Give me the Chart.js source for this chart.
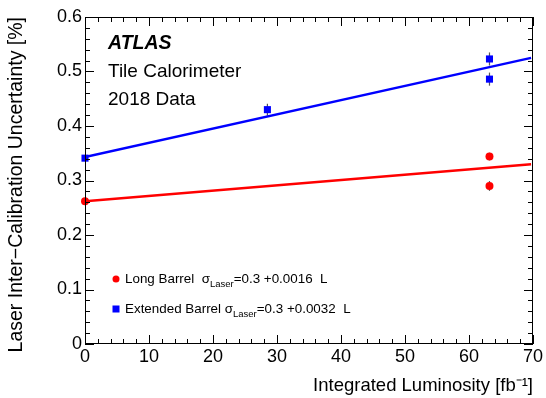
<!DOCTYPE html>
<html>
<head>
<meta charset="utf-8">
<script src="https://cdn.jsdelivr.net/npm/chart.js@4"></script>
<style>
  html, body { margin: 0; padding: 0; background: #fff; }
  #wrap { width: 546px; height: 398px; position: relative; }
</style>
</head>
<body>
<div id="wrap"><canvas id="c"></canvas></div>
<script>
// data
const lbLumi = [0, 63.2, 63.2];
const lbValues = [0.262, 0.344, 0.290];
const lbErrors = [0.004, 0.007, 0.009];

const ebLumi = [0, 28.5, 63.2, 63.2];
const ebValues = [0.341, 0.430, 0.523, 0.486];
const ebErrors = [0.004, 0.011, 0.012, 0.012];

// fitted lines (end points)
const fitLumi = [0, 69.7];
const lbFit = [0.262, 0.330];
const ebFit = [0.343, 0.525];

const xTicks = [0, 10, 20, 30, 40, 50, 60, 70];
const yTicks = [0, 0.1, 0.2, 0.3, 0.4, 0.5, 0.6];

const FONT = '"Liberation Sans", Arial, Helvetica, sans-serif';

function pts(xs, ys) {
    return xs.map((x, i) => ({ x: x, y: ys[i] }));
}

// ROOT style frame with ticks pointing inwards
const frameTicks = {
    id: 'frameTicks',
    afterDraw(chart) {
        const ctx = chart.ctx;
        const a = chart.chartArea;
        const xs = chart.scales.x, ys = chart.scales.y;
        ctx.save();
        ctx.strokeStyle = '#000';
        ctx.lineWidth = 1;
        ctx.strokeRect(a.left + 0.5, a.top + 0.5, a.right - a.left - 1, a.bottom - a.top - 1);
        ctx.beginPath();
        for (let v = 0; v <= 70.001; v += 2) {
            const px = Math.round(xs.getPixelForValue(v)) + 0.5;
            const len = (Math.round(v) % 10 === 0) ? 9 : 5;
            ctx.moveTo(px, a.bottom); ctx.lineTo(px, a.bottom - len);
            ctx.moveTo(px, a.top); ctx.lineTo(px, a.top + len);
        }
        for (let i = 0; i <= 30; i++) {
            const v = i * 0.02;
            const py = Math.round(ys.getPixelForValue(v)) + 0.5;
            const len = (i % 5 === 0) ? 9 : 5;
            ctx.moveTo(a.left, py); ctx.lineTo(a.left + len, py);
            ctx.moveTo(a.right, py); ctx.lineTo(a.right - len, py);
        }
        ctx.stroke();
        ctx.restore();
    }
};

// error bars drawn through the scales
const errorBars = {
    id: 'errorBars',
    beforeDatasetsDraw(chart) {
        const ctx = chart.ctx;
        const xs = chart.scales.x, ys = chart.scales.y;
        ctx.save();
        ctx.strokeStyle = '#555';
        ctx.lineWidth = 1.2;
        [[lbLumi, lbValues, lbErrors], [ebLumi, ebValues, ebErrors]].forEach(([lx, vy, ey]) => {
            lx.forEach((x, i) => {
                const px = xs.getPixelForValue(x);
                ctx.beginPath();
                ctx.moveTo(px, ys.getPixelForValue(vy[i] - ey[i]));
                ctx.lineTo(px, ys.getPixelForValue(vy[i] + ey[i]));
                ctx.stroke();
            });
        });
        ctx.restore();
    }
};

// labels and legend inside the frame
const annotations = {
    id: 'annotations',
    afterDraw(chart) {
        const ctx = chart.ctx;
        const a = chart.chartArea;
        const x0 = a.left + 23;
        ctx.save();
        ctx.fillStyle = '#000';
        ctx.textBaseline = 'middle';
        ctx.font = 'italic bold 19.5px ' + FONT;
        ctx.fillText('ATLAS', x0, a.top + 27);
        ctx.font = '19px ' + FONT;
        ctx.fillText('Tile Calorimeter', x0, a.top + 55);
        ctx.fillText('2018 Data', x0, a.top + 83);

        // legend
        const legend = [
            { name: 'Long Barrel  ', slope: '0.0016', color: '#ff0000', shape: 'circle', y: a.top + 262 },
            { name: 'Extended Barrel ', slope: '0.0032', color: '#0000ff', shape: 'square', y: a.top + 292 }
        ];
        legend.forEach(l => {
            const mx = a.left + 31;
            ctx.fillStyle = l.color;
            if (l.shape === 'circle') {
                ctx.beginPath(); ctx.arc(mx, l.y, 3.5, 0, Math.PI * 2); ctx.fill();
            } else {
                ctx.fillRect(mx - 3.5, l.y - 3.5, 7, 7);
            }
            ctx.fillStyle = '#000';
            let tx = mx + 9;
            ctx.font = '13.4px ' + FONT;
            ctx.fillText(l.name, tx, l.y);
            tx += ctx.measureText(l.name).width;
            ctx.fillText('\u03c3', tx, l.y);
            tx += ctx.measureText('\u03c3').width;
            ctx.font = '9.5px ' + FONT;
            ctx.fillText('Laser', tx, l.y + 5);
            tx += ctx.measureText('Laser').width;
            ctx.font = '13.4px ' + FONT;
            ctx.fillText('=0.3 +' + l.slope + '  L', tx, l.y);
        });
        ctx.restore();
    }
};

new Chart(document.getElementById('c'), {
    type: 'scatter',
    data: {
        datasets: [
            {
                label: 'Long Barrel fit',
                type: 'line',
                data: pts(fitLumi, lbFit),
                borderColor: '#ff0000',
                borderWidth: 2.5,
                pointRadius: 0,
                fill: false
            },
            {
                label: 'Extended Barrel fit',
                type: 'line',
                data: pts(fitLumi, ebFit),
                borderColor: '#0000ff',
                borderWidth: 2.5,
                pointRadius: 0,
                fill: false
            },
            {
                label: 'Long Barrel',
                data: pts(lbLumi, lbValues),
                pointStyle: 'circle',
                pointRadius: 4,
                backgroundColor: '#ff0000',
                borderColor: '#ff0000',
                borderWidth: 0,
                clip: false
            },
            {
                label: 'Extended Barrel',
                data: pts(ebLumi, ebValues),
                pointStyle: 'rect',
                pointRadius: 5,
                backgroundColor: '#0000ff',
                borderColor: '#0000ff',
                borderWidth: 0,
                clip: false
            }
        ]
    },
    options: {
        responsive: true,
        maintainAspectRatio: false,
        animation: false,
        layout: { padding: { left: 0, right: 13, top: 17, bottom: 0 } },
        plugins: {
            legend: { display: false },
            tooltip: { enabled: false }
        },
        scales: {
            x: {
                type: 'linear',
                min: 0, max: 70,
                afterFit: s => { s.height = 54; },
                afterBuildTicks: s => { s.ticks = xTicks.map(v => ({ value: v })); },
                grid: { display: false, drawTicks: false },
                border: { display: false },
                ticks: {
                    padding: 2,
                    color: '#000',
                    font: { family: FONT, size: 18 },
                    maxRotation: 0,
                    autoSkip: false
                },
                title: {
                    display: true,
                    text: 'Integrated Luminosity [fb\u207b\u00b9]',
                    align: 'end',
                    color: '#000',
                    font: { family: FONT, size: 18.5 },
                    padding: { top: 10, bottom: 1 }
                }
            },
            y: {
                type: 'linear',
                min: 0, max: 0.6,
                afterFit: s => { s.width = 85; },
                afterBuildTicks: s => { s.ticks = yTicks.map(v => ({ value: v })); },
                grid: { display: false, drawTicks: false },
                border: { display: false },
                ticks: {
                    padding: 3,
                    color: '#000',
                    font: { family: FONT, size: 18 },
                    autoSkip: false,
                    callback: v => String(Math.round(v * 10) / 10)
                },
                title: {
                    display: true,
                    text: 'Laser Inter\u2212Calibration Uncertainty [%]',
                    align: 'end',
                    color: '#000',
                    font: { family: FONT, size: 19.5 },
                    padding: { top: 5, bottom: 4 }
                }
            }
        }
    },
    plugins: [errorBars, frameTicks, annotations]
});
</script>
</body>
</html>
